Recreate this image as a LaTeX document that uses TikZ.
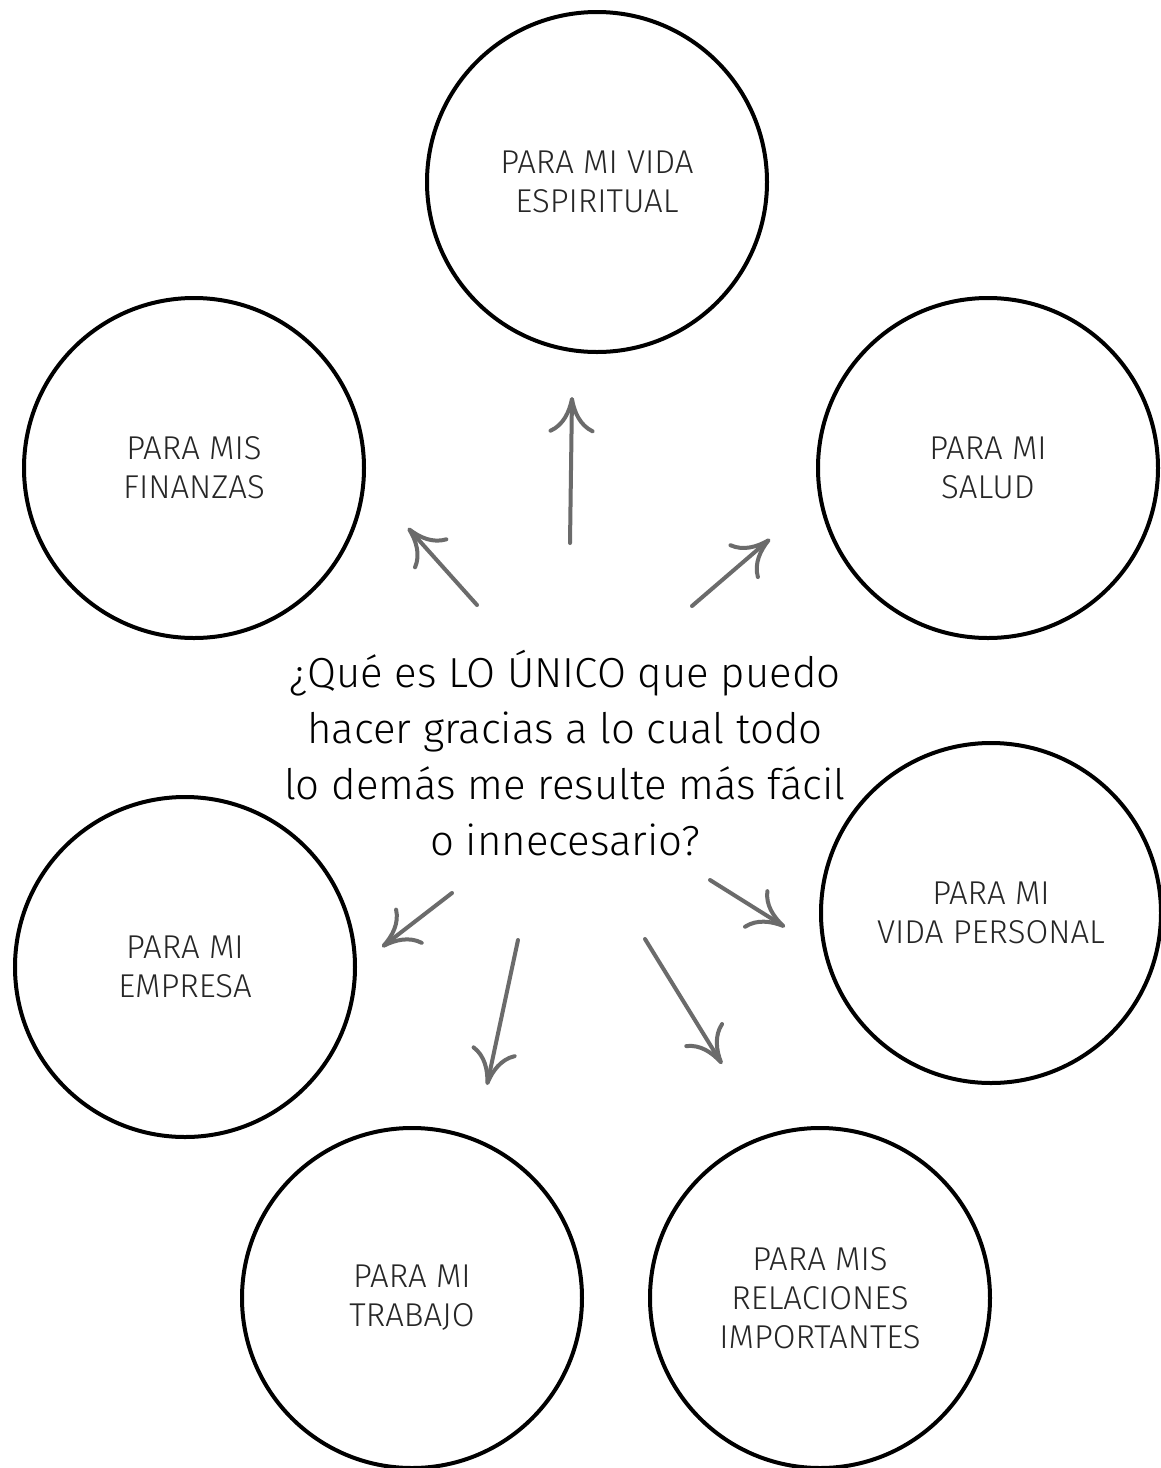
\documentclass[tikz,border=0pt]{standalone}
\usepackage{fontspec}
\setmainfont{Fira Sans Light}
\usetikzlibrary{arrows.meta}
\begin{document}
\begin{tikzpicture}[x=1pt,y=-1pt,
  area/.style={circle, draw=black, line width=4pt, minimum size=340pt, inner sep=0pt,
    align=center, font=\fontsize{33}{39}\selectfont, text=black!85},
  pointer/.style={draw=black!58, line width=4pt, line cap=round,
    -{Computer Modern Rightarrow[length=36pt,width=46pt]}},
  question/.style={align=center, font=\fontsize{42}{56}\selectfont, text=black}]
\useasboundingbox (0,0) rectangle (1161,1468);
\fill[white] (0,0) rectangle (1161,1468);

\node[area] (esp) at (597,182) {PARA MI VIDA\\ESPIRITUAL};
\node[area] (fin) at (194,468) {PARA MIS\\FINANZAS};
\node[area] (sal) at (988,468) {PARA MI\\SALUD};
\node[area] (emp) at (185,967) {PARA MI\\EMPRESA};
\node[area] (per) at (991,913) {PARA MI\\VIDA PERSONAL};
\node[area] (tra) at (412,1298) {PARA MI\\TRABAJO};
\node[area] (rel) at (820,1298) {PARA MIS\\RELACIONES\\IMPORTANTES};

\node[question] (q) at (565,753) {¿Qué es LO ÚNICO que puedo\\hacer gracias a lo cual todo\\lo demás me resulte más fácil\\o innecesario?};

\coordinate (a1s) at (570,543); \coordinate (a1e) at (572,397);
\coordinate (a2s) at (477,605); \coordinate (a2e) at (408,528);
\coordinate (a3s) at (692,606); \coordinate (a3e) at (770,539);
\coordinate (a4s) at (452,893); \coordinate (a4e) at (382,947);
\coordinate (a5s) at (518,940); \coordinate (a5e) at (487,1085);
\coordinate (a6s) at (645,939); \coordinate (a6e) at (722,1064);
\coordinate (a7s) at (710,880); \coordinate (a7e) at (785,927);

\draw[pointer] (a1s) -- (a1e);
\draw[pointer] (a2s) -- (a2e);
\draw[pointer] (a3s) -- (a3e);
\draw[pointer] (a4s) -- (a4e);
\draw[pointer] (a5s) -- (a5e);
\draw[pointer] (a6s) -- (a6e);
\draw[pointer] (a7s) -- (a7e);
\end{tikzpicture}
\end{document}
